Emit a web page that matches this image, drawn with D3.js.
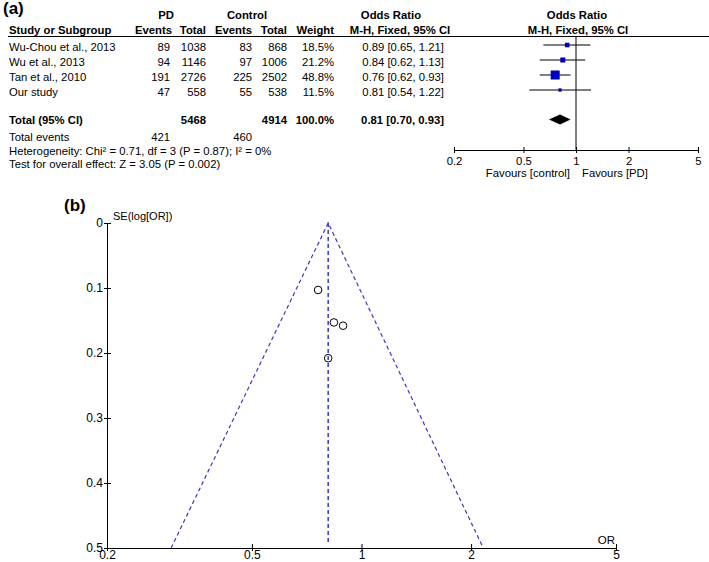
<!DOCTYPE html>
<html><head><meta charset="utf-8">
<script src="https://cdn.jsdelivr.net/npm/d3@7"></script>
<style>body{margin:0;background:#fff}svg{display:block;font-family:"Liberation Sans",Arial,sans-serif}</style>
</head><body>
<svg id="c" width="709" height="562"></svg>
<script>
// ---- data ----
const studies = ["Wu-Chou et al., 2013","Wu et al., 2013","Tan et al., 2010","Our study"];
const pdEvents = [89, 94, 191, 47];
const pdTotal = [1038, 1146, 2726, 558];
const ctrlEvents = [83, 97, 225, 55];
const ctrlTotal = [868, 1006, 2502, 538];
const weights = [18.5, 21.2, 48.8, 11.5];
const orVals = [0.89, 0.84, 0.76, 0.81];
const ciLow = [0.65, 0.62, 0.62, 0.54];
const ciHigh = [1.21, 1.13, 0.93, 1.22];
const pooled = [0.81, 0.70, 0.93];
const totals = ["5468", "4914", "100.0%"];
const totalEvents = ["421", "460"];
const tickVals = [0.2, 0.5, 1, 2, 5];
const tickLabels = ["0.2", "0.5", "1", "2", "5"];
const seVals = [0.158, 0.153, 0.103, 0.208];
const seTicks = [0, 0.1, 0.2, 0.3, 0.4, 0.5];
const seTickLabels = ["0", "0.1", "0.2", "0.3", "0.4", "0.5"];
const funnelLimits = [0.30, 2.16]; // OR at SE = 0.5

const svg = d3.select("#c");
svg.append("rect").attr("width",709).attr("height",562).attr("fill","#fff");
const FS = "11.3px";
const txt = (x,y,s,anchor,bold,size) => svg.append("text").attr("x",x).attr("y",y).text(s)
  .attr("text-anchor",anchor||"start").attr("font-weight",bold?"bold":"normal")
  .attr("font-size",size||FS).attr("fill","#000");

// ---- panel (a) ----
txt(3,14,"(a)","start",true,"17px");
txt(166,19,"PD","middle",true);
txt(247,19,"Control","middle",true);
txt(391,19,"Odds Ratio","middle",true);
txt(577,19,"Odds Ratio","middle",true);
txt(9,34,"Study or Subgroup","start",true);
txt(172,34,"Events","end",true);
txt(206,34,"Total","end",true);
txt(252,34,"Events","end",true);
txt(287,34,"Total","end",true);
txt(334,34,"Weight","end",true);
txt(400,34,"M-H, Fixed, 95% CI","middle",true);
txt(578,34,"M-H, Fixed, 95% CI","middle",true);
svg.append("line").attr("x1",8).attr("x2",709).attr("y1",36.5).attr("y2",36.5).attr("stroke","#000");

const rowY = d3.scaleLinear().domain([0,1]).range([45,60]);
const fx = d3.scaleLog().domain([0.2,5]).range([454,698]);
const boxSize = d3.scalePow().exponent(0.7).domain([0,48.8]).range([0,9]);
const fmt2 = d3.format(".2f");

studies.forEach((s,i)=>{
  const y = rowY(i), ty = y+5.5;
  txt(9,ty,s);
  txt(170,ty,pdEvents[i],"end");
  txt(206,ty,pdTotal[i],"end");
  txt(252,ty,ctrlEvents[i],"end");
  txt(287,ty,ctrlTotal[i],"end");
  txt(334,ty,weights[i].toFixed(1)+"%","end");
  txt(444,ty,`${fmt2(orVals[i])} [${fmt2(ciLow[i])}, ${fmt2(ciHigh[i])}]`,"end");
});

// vertical line at OR=1
svg.append("line").attr("x1",fx(1)).attr("x2",fx(1)).attr("y1",36.5).attr("y2",150).attr("stroke","#000");
// CIs and boxes
const g = svg.append("g");
g.selectAll("line.ci").data(studies).join("line")
  .attr("x1",(d,i)=>fx(ciLow[i])).attr("x2",(d,i)=>fx(ciHigh[i]))
  .attr("y1",(d,i)=>rowY(i)).attr("y2",(d,i)=>rowY(i)).attr("stroke","#000");
g.selectAll("rect").data(studies).join("rect")
  .attr("x",(d,i)=>fx(orVals[i])-boxSize(weights[i])/2)
  .attr("y",(d,i)=>rowY(i)-boxSize(weights[i])/2)
  .attr("width",(d,i)=>boxSize(weights[i])).attr("height",(d,i)=>boxSize(weights[i]))
  .attr("fill","#0000c0");

// total row
const totY = 119.5;
txt(9,124,"Total (95% CI)","start",true);
txt(206,124,totals[0],"end",true);
txt(287,124,totals[1],"end",true);
txt(334,124,totals[2],"end",true);
txt(444,124,`${fmt2(pooled[0])} [${fmt2(pooled[1])}, ${fmt2(pooled[2])}]`,"end",true);
svg.append("path").attr("d",`M${fx(pooled[1])},${totY} L${fx(pooled[0])},${totY-5} L${fx(pooled[2])},${totY} L${fx(pooled[0])},${totY+5} Z`).attr("fill","#000");
txt(9,141,"Total events");
txt(170,141,totalEvents[0],"end");
txt(252,141,totalEvents[1],"end");
txt(9,155,"Heterogeneity: Chi² = 0.71, df = 3 (P = 0.87); I² = 0%");
txt(9,168,"Test for overall effect: Z = 3.05 (P = 0.002)");

// forest axis
const fAxis = svg.append("g").attr("transform","translate(0,150)")
  .call(d3.axisBottom(fx).tickValues(tickVals).tickFormat((d,i)=>tickLabels[i]).tickSizeOuter(0).tickSizeInner(3).tickPadding(4));
fAxis.select(".domain").attr("stroke","#000");
fAxis.selectAll(".tick line").attr("y1",-3).attr("y2",3).attr("stroke","#000");
fAxis.selectAll(".tick text").attr("font-size",FS).attr("font-family",null).attr("fill","#000");
txt(570,177,"Favours [control]","end");
txt(582,177,"Favours [PD]","start");

// ---- panel (b) funnel ----
txt(64,211,"(b)","start",true,"17px");
const px = d3.scaleLog().domain([0.2,5]).range([107,616]);
const py = d3.scaleLinear().domain([0,0.5]).range([223,548]);
const yAx = svg.append("g").attr("transform","translate(107,0)")
  .call(d3.axisLeft(py).tickValues(seTicks).tickFormat((d,i)=>seTickLabels[i]).tickSizeOuter(0).tickSizeInner(3).tickPadding(3));
yAx.selectAll(".tick line").attr("x1",-3).attr("x2",4);
yAx.selectAll(".tick text").attr("font-size","12px").attr("font-family",null).attr("fill","#000").attr("x",-4);
yAx.select(".domain").attr("stroke","#000");
const xAx = svg.append("g").attr("transform","translate(0,548)")
  .call(d3.axisBottom(px).tickValues(tickVals).tickFormat((d,i)=>tickLabels[i]).tickSizeOuter(0).tickSizeInner(4).tickPadding(2));
xAx.selectAll(".tick line").attr("y1",-4).attr("y2",3);
xAx.selectAll(".tick text").attr("font-size","12px").attr("font-family",null).attr("fill","#000")
  .attr("y",2.5);
xAx.select(".domain").attr("stroke","#000");
txt(113,220,"SE(log[OR])","start",false,"11px");
txt(615,544,"OR","end",false,"11.5px");

const dashC = "#3a3ac0";
const ap = [px(pooled[0]), py(0)];
svg.append("path").attr("d",`M${px(funnelLimits[0])},${py(0.5)} L${ap[0]},${ap[1]} L${px(funnelLimits[1])},${py(0.5)}`)
  .attr("fill","none").attr("stroke",dashC).attr("stroke-width",1.2).attr("stroke-dasharray","4,3");
svg.append("line").attr("x1",ap[0]).attr("x2",ap[0]).attr("y1",py(0)).attr("y2",py(0.5)-3)
  .attr("stroke",dashC).attr("stroke-width",1.5).attr("stroke-dasharray","4,3");
svg.append("g").selectAll("circle").data(orVals).join("circle")
  .attr("cx",d=>px(d)).attr("cy",(d,i)=>py(seVals[i])).attr("r",3.8)
  .attr("fill","none").attr("stroke","#000").attr("stroke-width",1);
</script>
</body></html>
